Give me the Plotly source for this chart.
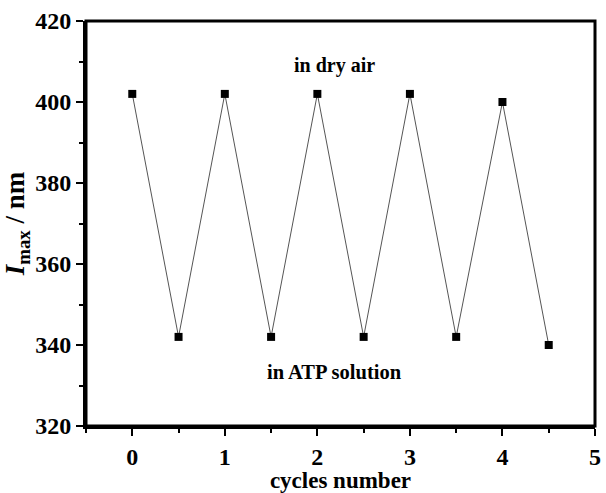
import plotly.graph_objects as go

cycles = [0, 0.5, 1, 1.5, 2, 2.5, 3, 3.5, 4, 4.5]
imax = [402, 342, 402, 342, 402, 342, 402, 342, 400, 340]

font_family = "Liberation Serif"

fig = go.Figure()
fig.add_trace(go.Scatter(
    x=cycles, y=imax, mode="lines+markers",
    line=dict(color="#555555", width=1),
    marker=dict(symbol="square", size=8, color="black"),
    showlegend=False,
))

axis_common = dict(
    showline=True, linecolor="black", linewidth=3,
    ticks="outside", ticklen=7, tickwidth=2, tickcolor="black",
    showgrid=False, zeroline=False, mirror=False,
    ticklabeloverflow="allow",
    tickfont=dict(family=font_family, size=24, color="black", weight="bold"),
)

fig.update_xaxes(
    range=[-0.5, 5], tickvals=[0, 1, 2, 3, 4, 5],
    minor=dict(ticks="outside", ticklen=4, tickwidth=2, tickcolor="black", dtick=0.5, tick0=0),
    title=dict(text="<b>cycles number</b>", font=dict(family=font_family, size=23, color="black"), standoff=2),
    **axis_common,
)
fig.update_yaxes(
    range=[320, 420], tickvals=[320, 340, 360, 380, 400, 420],
    minor=dict(ticks="outside", ticklen=4, tickwidth=2, tickcolor="black", dtick=10, tick0=320),
    title=dict(text="<b><i>I</i><sub>max</sub> / nm</b>", font=dict(family=font_family, size=27, color="black"), standoff=6),
    **axis_common,
)

# plot frame (top and right edges)
fig.add_shape(type="rect", xref="paper", yref="paper", x0=0, y0=0, x1=1, y1=1,
              line=dict(color="black", width=3), fillcolor="rgba(0,0,0,0)", layer="above")

fig.add_annotation(x=2.18, y=409, text="<b>in dry air</b>", showarrow=False,
                   font=dict(family=font_family, size=20, color="black"))
fig.add_annotation(x=2.18, y=333.4, text="<b>in ATP solution</b>", showarrow=False,
                   font=dict(family=font_family, size=20.5, color="black"))

fig.update_layout(
    width=606, height=493,
    margin=dict(l=86, r=5, t=21, b=54),
    plot_bgcolor="white", paper_bgcolor="white",
)

fig.write_html("out.html")
